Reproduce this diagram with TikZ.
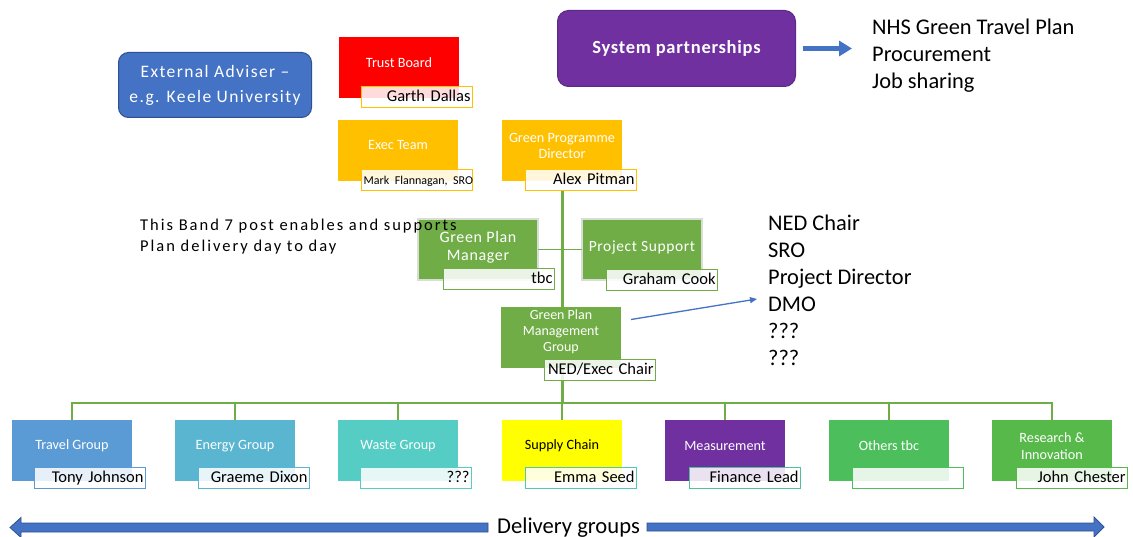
\documentclass[tikz,border=0pt]{standalone}
\usepackage{fontspec}
\setmainfont{Carlito}
\newfontfamily\spaced{Carlito}[LetterSpace=8]
\newfontfamily\widespaced{Carlito}[LetterSpace=12]
\newfontfamily\lightspaced{Carlito}[LetterSpace=4]
\usetikzlibrary{arrows.meta}

\definecolor{accblue}{HTML}{4472C4}
\definecolor{accdark}{HTML}{2F528F}
\definecolor{orgred}{HTML}{FF0000}
\definecolor{orggold}{HTML}{FFC000}
\definecolor{orggreen}{HTML}{70AD47}
\definecolor{orgpurple}{HTML}{7030A0}
\definecolor{purpedge}{HTML}{5B2A86}
\definecolor{paleedge}{HTML}{D9DED5}
\definecolor{travelc}{HTML}{5B9BD5}
\definecolor{energyc}{HTML}{5AB5D1}
\definecolor{wastec}{HTML}{55CCC4}
\definecolor{supplyc}{HTML}{FFFF00}
\definecolor{supplyedge}{HTML}{52C8AE}
\definecolor{measedge}{HTML}{4FC29C}
\definecolor{othersc}{HTML}{4CBF5C}
\definecolor{researchc}{HTML}{57B94A}

\tikzset{
  orgbox/.style={rectangle, anchor=north west, minimum width=120pt,
    minimum height=61pt, inner sep=0pt, outer sep=0pt},
  boxtext/.style={align=center, text=white, inner sep=0pt,
    font=\fontsize{14.2}{16.5}\selectfont},
  namelab/.style={rectangle, anchor=north west, minimum width=111pt,
    minimum height=21pt, text width=107pt, align=right, inner sep=0pt,
    text height=12pt, text depth=3.5pt,
    fill=white, fill opacity=0.86, text opacity=1, line width=1.2pt,
    font=\fontsize{16.5}{18}\selectfont},
  trunk/.style={draw=orggreen, line width=3pt},
  branch/.style={draw=orggreen, line width=1.6pt},
  pointer/.style={draw=accblue, line width=1.3pt,
    -{Triangle[length=7pt,width=6pt]}},
  fatpointer/.style={draw=accblue, line width=4.5pt,
    -{Triangle[length=13pt,width=15pt]}},
  bigarrow/.style={fill=accblue, draw=accdark, line width=0.8pt},
  listtext/.style={anchor=north west, align=left, inner sep=0pt,
    font=\fontsize{22.4}{27}\selectfont},
}

% unit box with its name tag: [text style]{name}{box corner}{tag corner}{fill}{tag edge}{title}{holder}
\newcommand\orgunit[8][]{%
  \node[orgbox, fill=#5] (#2) at (#3) {};
  \node[boxtext, #1] (#2-t) at ([yshift=-26pt]#2.north) {#7};
  \node[namelab, draw=#6] (#2-l) at (#4) {\mbox{#8}};
}

\begin{document}
\begin{tikzpicture}[x=1pt, y=-1pt]
\fill[white] (0,0) rectangle (1133,537);
\useasboundingbox (0,0) rectangle (1133,537);

\coordinate (bar) at (0,403);

% top boxes
\node[rectangle, rounded corners=10pt, fill=accblue, draw=accdark, line width=1pt,
  anchor=north west, minimum width=193pt, minimum height=65pt, inner sep=0pt,
  text=white, align=center, font=\spaced\fontsize{17.5}{25}\selectfont]
  (ext) at (118,52) {External Adviser –\\e.g. Keele University};

\node[rectangle, rounded corners=11pt, fill=orgpurple, draw=purpedge, line width=1pt,
  anchor=north west, minimum width=238pt, minimum height=76pt, inner sep=0pt,
  text=white, font=\bfseries\lightspaced\fontsize{18.5}{20}\selectfont]
  (sys) at (557,10) {System partnerships};

\node[listtext] (nhs) at (872,19) {NHS Green Travel Plan\\Procurement\\Job sharing};
\draw[fatpointer] ([xshift=7pt]sys.east) -- ([xshift=-20pt]nhs.west |- sys.east);

% main spine
\coordinate (spinetop) at (562,190);
\draw[trunk] (spinetop) -- (spinetop |- bar);

\orgunit{trust}{339,37}{361,86}{orgred}{orggold}{Trust Board}{Garth Dallas}
\orgunit[yshift=1pt]{exec}{338,120}{361,169}{orggold}{orggold}{Exec Team}{\fontsize{12}{14}\selectfont Mark Flannagan, SRO}
\orgunit{gpd}{502,120}{525,169}{orggold}{orggold}{Green Programme\\Director}{Alex Pitman}

% side posts
\node[orgbox, fill=orggreen, draw=paleedge, line width=1.5pt] (gpm) at (418,219) {};
\node[orgbox, fill=orggreen, draw=paleedge, line width=1.5pt] (ps) at (582,219) {};
\draw[branch] (gpm.east) -- (ps.west);
\node[boxtext, font=\lightspaced\fontsize{16}{18}\selectfont] (gpm-t) at ([yshift=-28pt]gpm.north) {Green Plan\\Manager};
\node[boxtext, font=\lightspaced\fontsize{15.5}{18}\selectfont] (ps-t) at ([yshift=-28pt]ps.north) {Project Support};
\node[namelab, draw=orggreen] (gpm-l) at (443,268) {tbc};
\node[namelab, draw=orggreen] (ps-l) at (606,269) {Graham Cook};

% note on the plan manager post, printed over the box edge
\node[anchor=north west, align=left, inner sep=0pt,
  font=\widespaced\fontsize{16.5}{21}\selectfont]
  (band) at (140,219) {This Band 7 post enables and supports\\Plan delivery day to day};

% management group
\node[orgbox, fill=orggreen] (gpmg) at (501,307) {};
\node[boxtext, font=\fontsize{14}{16}\selectfont] (gpmg-t) at ([yshift=-25pt]gpmg.north) {Green Plan\\Management\\Group};
\node[namelab, draw=orggreen] (gpmg-l) at (544,359) {NED/Exec Chair};

\node[listtext] (ned) at (768,215) {NED Chair\\SRO\\Project Director\\DMO\\???\\???};
\coordinate (nedtip) at (757,299);
\draw[pointer] ([xshift=10pt,yshift=18pt]gpmg.east) -- (nedtip);

% delivery groups
\orgunit{travel}{12,420}{34,467}{travelc}{travelc}{Travel Group}{Tony Johnson}
\orgunit{energy}{175,420}{198,467}{energyc}{energyc}{Energy Group}{Graeme Dixon}
\orgunit{waste}{338,420}{360,467}{wastec}{wastec}{Waste Group}{???}
\orgunit[text=black]{supply}{502,420}{525,467}{supplyc}{supplyedge}{Supply Chain}{Emma Seed}
\orgunit{meas}{665,420}{689,467}{orgpurple}{measedge}{Measurement}{Finance Lead}
\orgunit{others}{829,420}{852,467}{othersc}{othersc}{Others tbc}{}
\orgunit{research}{992,420}{1016,467}{researchc}{researchc}{Research \&\\Innovation}{John Chester}

% distribution bar
\draw[branch] (travel.north) |- (research.north |- bar) -- (research.north);
\foreach \u in {energy,waste,supply,meas,others}
  \draw[branch] (\u.north) -- (\u.north |- bar);

% delivery arrows
\node[anchor=base west, inner sep=0pt, font=\fontsize{22.6}{24}\selectfont]
  (dg) at (497,533) {Delivery groups};
\coordinate (ltip) at (10,527.5);
\coordinate (rtip) at (1104,527);
\draw[bigarrow] ([xshift=-9pt,yshift=4.5pt]dg.west |- ltip) -- ([xshift=11pt,yshift=4.5pt]ltip)
  -- ([xshift=11pt,yshift=10pt]ltip) -- (ltip) -- ([xshift=11pt,yshift=-10pt]ltip)
  -- ([xshift=11pt,yshift=-4.5pt]ltip) -- ([xshift=-9pt,yshift=-4.5pt]dg.west |- ltip) -- cycle;
\draw[bigarrow] ([xshift=7pt,yshift=4pt]dg.east |- rtip) -- ([xshift=-10pt,yshift=4pt]rtip)
  -- ([xshift=-10pt,yshift=10pt]rtip) -- (rtip) -- ([xshift=-10pt,yshift=-10pt]rtip)
  -- ([xshift=-10pt,yshift=-4pt]rtip) -- ([xshift=7pt,yshift=-4pt]dg.east |- rtip) -- cycle;
\end{tikzpicture}
\end{document}
